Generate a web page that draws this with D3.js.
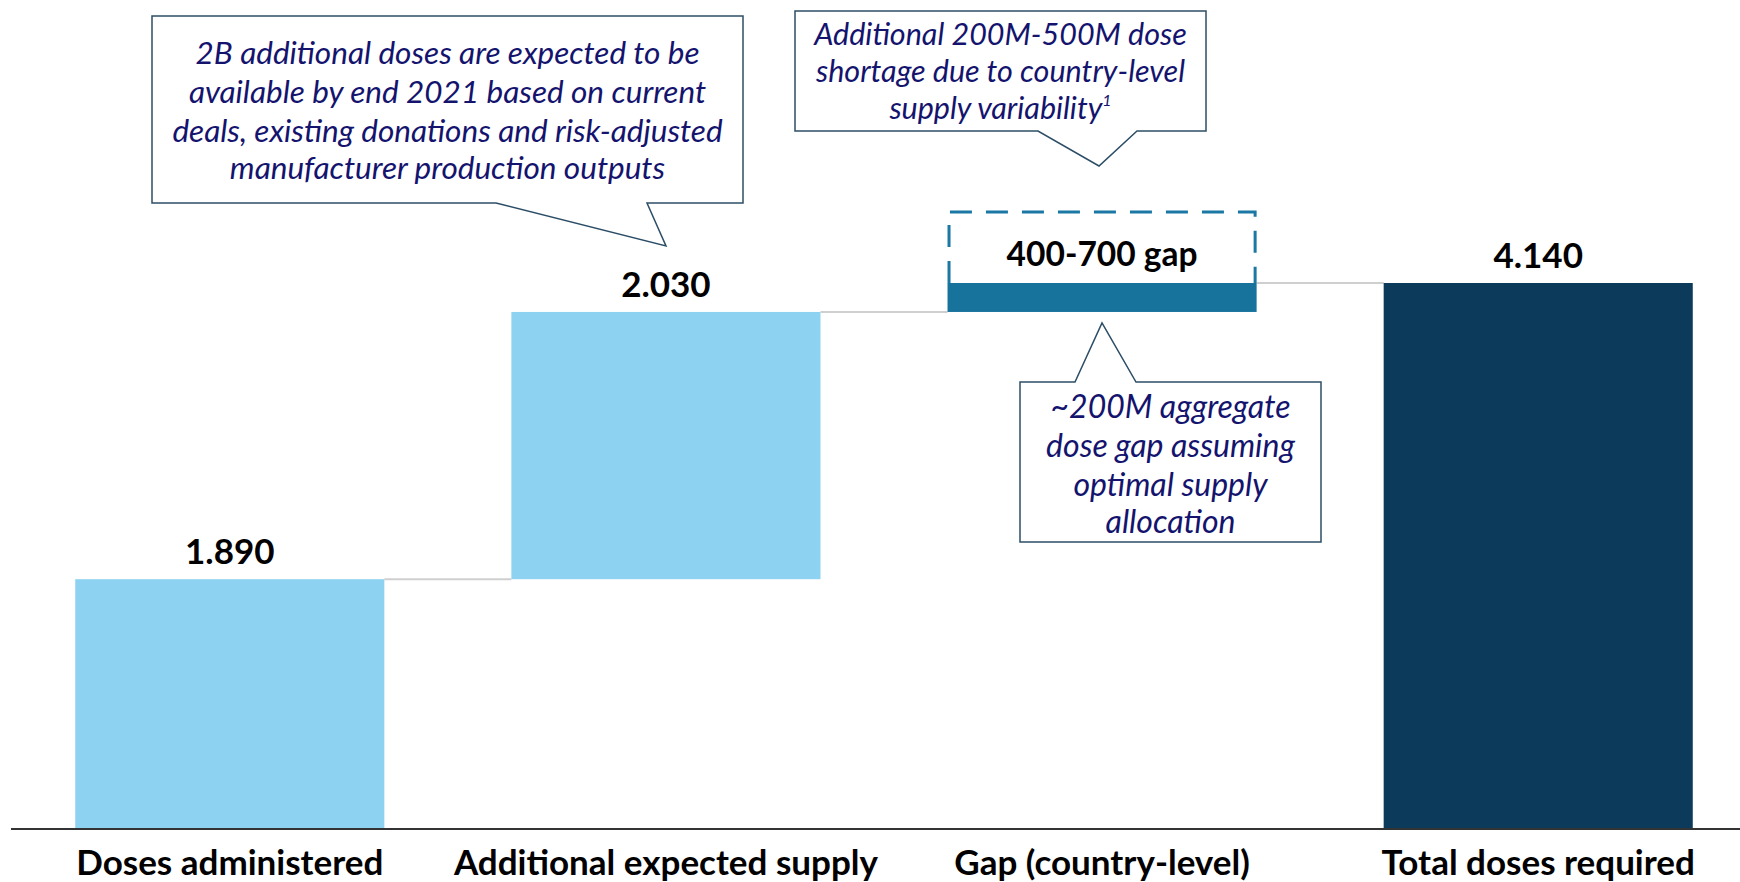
<!DOCTYPE html>
<html>
<head>
<meta charset="utf-8">
<script src="https://cdn.jsdelivr.net/npm/d3@7"></script>
<style>
  html, body { margin: 0; padding: 0; background: #fff; }
  svg { display: block; }
</style>
</head>
<body>
<svg id="chart"></svg>
<script>
// data
const categories = ['Doses administered', 'Additional expected supply', 'Gap (country-level)', 'Total doses required'];
const values = [1.890, 2.030, 0.220, 4.140];
const barKinds = ['total', 'delta', 'delta', 'total'];
const valueLabels = ['1.890', '2.030', '400-700 gap', '4.140'];
const gapRangeTop = 4.68;

const calloutSupply = ['2B additional doses are expected to be', 'available by end 2021 based on current', 'deals, existing donations and risk-adjusted', 'manufacturer production outputs'];
const calloutShortage = ['Additional 200M-500M dose', 'shortage due to country-level', 'supply variability'];
const calloutAggregate = ['~200M aggregate', 'dose gap assuming', 'optimal supply', 'allocation'];

const width = 1740, height = 882;
const svg = d3.select('#chart').attr('width', width).attr('height', height);

const colors = ['#8dd2f1', '#8dd2f1', '#17729c', '#0c3a5b'];
const textBlue = '#14146e';
const boxStroke = '#2c4d66';

// Scales
const x = d3.scaleBand()
  .domain(categories)
  .range([12, 1756])
  .paddingInner(0.2913)
  .paddingOuter(0.145);

const y = d3.scaleLinear()
  .domain([0, 4.14])
  .range([828, 283]);

// waterfall start/end
let running = 0;
const bars = categories.map((c, i) => {
  let lo, hi;
  if (barKinds[i] === 'total') { lo = 0; hi = values[i]; running = values[i]; }
  else { lo = running; hi = running + values[i]; running = hi; }
  return { cat: c, lo, hi, i };
});

// connectors
const g = svg.append('g');
g.selectAll('.conn')
  .data(bars.slice(0, -1))
  .join('line')
  .attr('x1', d => x(d.cat) + x.bandwidth())
  .attr('x2', d => x(bars[d.i + 1].cat))
  .attr('y1', d => y(d.hi))
  .attr('y2', d => y(d.hi))
  .attr('stroke', '#cfcfcf')
  .attr('stroke-width', 2);

// bars
g.selectAll('.bar')
  .data(bars)
  .join('rect')
  .attr('x', d => x(d.cat))
  .attr('y', d => y(d.hi))
  .attr('width', x.bandwidth())
  .attr('height', d => y(d.lo) - y(d.hi))
  .attr('fill', (d, i) => colors[i]);

// dashed range box over gap bar
const gapBar = bars[2];
const gx0 = x(gapBar.cat) + 1.5, gx1 = x(gapBar.cat) + x.bandwidth() - 1.5;
g.append('path')
  .attr('d', `M${gx0},${y(gapBar.hi)} V${y(gapRangeTop)} H${gx1} V${y(gapBar.hi)}`)
  .attr('fill', 'none')
  .attr('stroke', '#1b77a3')
  .attr('stroke-width', 3)
  .attr('stroke-dasharray', '22,14');

// value labels
g.selectAll('.val')
  .data(bars)
  .join('text')
  .attr('x', d => x(d.cat) + x.bandwidth() / 2)
  .attr('y', d => d.i === 2 ? y(gapBar.hi) - 17 : y(d.hi) - 15)
  .attr('text-anchor', 'middle')
  .style('font-family', 'Lato, sans-serif')
  .style('font-weight', 700)
  .style('font-size', d => d.i === 2 ? '33.5px' : '35px')
  .style('fill', '#000')
  .text((d, i) => valueLabels[i]);

// axis
const xAxis = d3.axisBottom(x).tickSize(0).tickPadding(0);
const axisG = svg.append('g')
  .attr('transform', `translate(0,${y(0)})`)
  .call(xAxis);
axisG.select('.domain').remove();
svg.append('line')
  .attr('x1', 11).attr('x2', width)
  .attr('y1', y(0) + 1).attr('y2', y(0) + 1)
  .attr('stroke', '#333').attr('stroke-width', 2);
axisG.selectAll('text')
  .attr('y', 47)
  .attr('dy', null)
  .style('font-family', 'Lato, sans-serif')
  .style('font-weight', 700)
  .style('font-size', '35px')
  .style('fill', '#000');

// callouts
function callout(box, pointer, lines, lineY, fontSize, sup) {
  const [x0, y0, x1, y1] = box;
  const [pa, pb, tx, ty, side] = pointer;
  let d;
  if (side === 'bottom') {
    d = `M${x0},${y0} H${x1} V${y1} H${pb} L${tx},${ty} L${pa},${y1} H${x0} Z`;
  } else {
    d = `M${x0},${y0} H${pa} L${tx},${ty} L${pb},${y0} H${x1} V${y1} H${x0} Z`;
  }
  svg.append('path')
    .attr('d', d)
    .attr('fill', '#fff')
    .attr('stroke', boxStroke)
    .attr('stroke-width', 1.5);
  const cx = (x0 + x1) / 2;
  const t = svg.append('g');
  lines.forEach((line, i) => {
    const txt = t.append('text')
      .attr('x', cx)
      .attr('y', lineY[i])
      .attr('text-anchor', 'middle')
      .attr('dominant-baseline', 'central')
      .style('font-family', 'Lato, sans-serif')
      .style('font-style', 'italic')
      .style('font-size', fontSize + 'px')
      .style('fill', textBlue)
      .text(line);
    if (sup && i === lines.length - 1) {
      txt.append('tspan')
        .attr('dy', -8)
        .style('font-size', '16px')
        .text(sup);
    }
  });
}

callout([152, 16, 743, 203], [496, 647, 666, 246, 'bottom'], calloutSupply, [52, 91, 130, 167], 31.5);
callout([795, 11, 1206, 131], [1038, 1137, 1099, 166, 'bottom'], calloutShortage, [33, 70, 107], 30.5, '1');
callout([1020, 382, 1321, 542], [1075, 1136, 1102, 323, 'top'], calloutAggregate, [405, 444, 483, 520], 32);
</script>
</body>
</html>
